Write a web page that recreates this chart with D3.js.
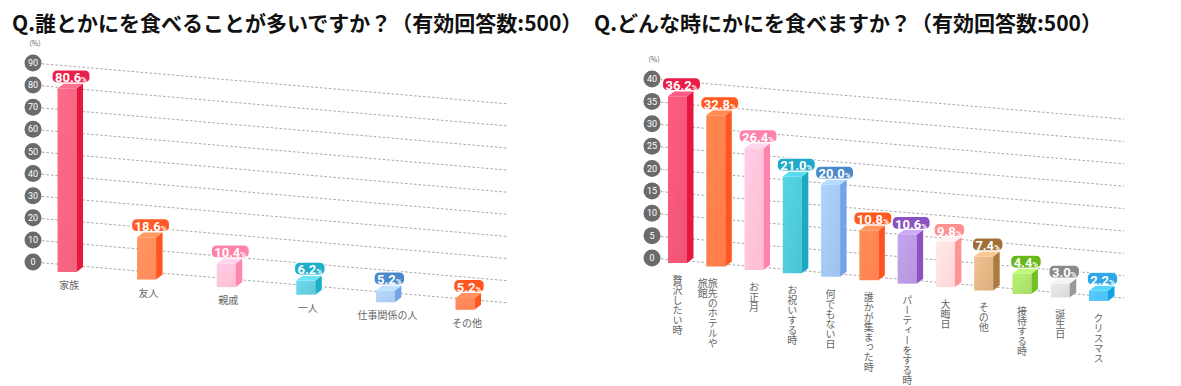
<!DOCTYPE html>
<html>
<head>
<meta charset="utf-8">
<script src="https://cdn.jsdelivr.net/npm/d3@7"></script>
<style>
  body { margin: 0; background: #fff; }
  svg { display: block; }
  text { font-family: "Noto Sans CJK JP", "Noto Sans", sans-serif; }
</style>
</head>
<body>
<script>
// data
var whoCats = ["家族", "友人", "親戚", "一人", "仕事関係の人", "その他"];
var whoVals = [80.6, 18.6, 10.4, 6.2, 5.2, 5.2];
var whoTicks = [0, 10, 20, 30, 40, 50, 60, 70, 80, 90];

var whenCats = ["贅沢したい時", "旅先のホテルや|旅館", "お正月", "お祝いする時", "何でもない日", "誰かが集まった時",
  "パーティーをする時", "大晦日", "その他", "接待する時", "誕生日", "クリスマス"];
var whenVals = [36.2, 32.8, 26.4, 21.0, 20.0, 10.8, 10.6, 9.8, 7.4, 4.4, 3.0, 2.2];
var whenTicks = [0, 5, 10, 15, 20, 25, 30, 35, 40];

// colours: [front, side, badge]
var whoColors = [
  ["#f2627f", "#e8173f", "#e8204a"],
  ["#ff8a5a", "#ff5520", "#ff5a28"],
  ["#ffbdd3", "#ff86ad", "#ff82ab"],
  ["#62c8d8", "#1fb0c8", "#1fafcc"],
  ["#a9c8ef", "#74a3ea", "#4a89cc"],
  ["#ff8255", "#ff5520", "#ff5520"]
];
var whenColors = [
  ["#ee5475", "#e8173f", "#e81c48"],
  ["#ff7c48", "#ff5520", "#ff5a20"],
  ["#ffbcd2", "#ff84ab", "#ff82ab"],
  ["#4cc4d4", "#1aaac4", "#1eaac8"],
  ["#9ec2ea", "#74a3ea", "#4a89cc"],
  ["#ff8250", "#ff5520", "#ff5a20"],
  ["#b596dc", "#8a52c4", "#8a52c0"],
  ["#ffd6d6", "#ff9494", "#ff9090"],
  ["#dcb080", "#aa7a40", "#a07038"],
  ["#a8dc68", "#72c220", "#68b818"],
  ["#d8d8d8", "#9a9a9a", "#8a8a8a"],
  ["#4cbdf2", "#12a0e8", "#30a8e8"]
];

var svg = d3.select("body").append("svg")
  .attr("width", 1181)
  .attr("height", 386);

var defs = svg.append("defs");

// titles
svg.append("text").attr("x", 12).attr("y", 31)
  .style("font-size", "21px").style("font-weight", "bold").attr("fill", "#111")
  .text("Q.誰とかにを食べることが多いですか？（有効回答数:500）");
svg.append("text").attr("x", 594).attr("y", 31)
  .style("font-size", "21px").style("font-weight", "bold").attr("fill", "#111")
  .text("Q.どんな時にかにを食べますか？（有効回答数:500）");

function drawChart(cfg) {
  var g = svg.append("g");
  var y = d3.scaleLinear().domain([0, d3.max(cfg.ticks)]).range([cfg.y0, cfg.yTop]);
  var x = d3.scalePoint().domain(cfg.cats).range(cfg.xRange);
  var fmt = d3.format(".1f");

  // sloped dashed grid
  g.append("g").selectAll("line").data(cfg.ticks).enter().append("line")
    .attr("x1", cfg.axisX).attr("x2", cfg.gridX1)
    .attr("y1", function (d) { return y(d); })
    .attr("y2", function (d) { return y(d) + cfg.slope * (cfg.gridX1 - cfg.axisX); })
    .style("stroke", "#a8a8a8").style("stroke-width", 1).style("stroke-dasharray", "2.5,2");

  // tick badges
  var tk = g.append("g").selectAll("g").data(cfg.ticks).enter().append("g")
    .attr("transform", function (d) { return "translate(" + cfg.axisX + "," + y(d) + ")"; });
  tk.append("circle").attr("r", 8.5).style("fill", "#6b6b6b");
  tk.append("text").attr("text-anchor", "middle").attr("dy", "0.35em")
    .style("font-size", "9px").style("fill", "#fff").style("font-family", "Roboto, sans-serif")
    .text(function (d) { return d; });

  g.append("text").attr("x", cfg.axisX + 2).attr("y", cfg.yTop - 17)
    .attr("text-anchor", "middle").style("font-size", "7px").style("fill", "#666")
    .text("(%)");

  var bw = 19, dx = 6.5, dy = 5;
  var bars = g.append("g").selectAll("g").data(cfg.vals).enter().append("g");

  bars.each(function (v, i) {
    var c = cfg.colors[i];
    var cx = x(cfg.cats[i]);
    var bottom = cfg.barY0 + cfg.barSlope * (cx - cfg.xRange[0]);
    var h = (cfg.y0 - y(v)) * 1.03;
    var top = bottom - h;
    var x0 = cx - bw / 2, x1 = cx + bw / 2;
    var gid = cfg.id + "g" + i;
    var lg = defs.append("linearGradient").attr("id", gid).attr("x1", 0).attr("y1", 0).attr("x2", 1).attr("y2", 1);
    lg.append("stop").attr("offset", 0).attr("stop-color", d3.color(c[0]).brighter(0.25));
    lg.append("stop").attr("offset", 1).attr("stop-color", c[0]);
    var b = d3.select(this);
    b.append("path")
      .attr("d", "M" + x0 + "," + top + "H" + x1 + "V" + bottom + "H" + x0 + "Z")
      .style("fill", "url(#" + gid + ")");
    b.append("path")
      .attr("d", "M" + x1 + "," + top + "L" + (x1 + dx) + "," + (top - dy) + "V" + (bottom - dy) + "L" + x1 + "," + bottom + "Z")
      .style("fill", c[1]);
    b.append("path")
      .attr("d", "M" + x0 + "," + top + "L" + (x0 + dx) + "," + (top - dy) + "H" + (x1 + dx) + "L" + x1 + "," + top + "Z")
      .style("fill", d3.color(c[0]).brighter(0.35));

    // value badge
    var bx = cx + 4, by = top - 12;
    var badge = b.append("g").attr("transform", "translate(" + bx + "," + by + ")");
    var rect = badge.append("rect").style("fill", c[2]).style("stroke", "#fff").style("stroke-width", 1.2);
    var t = badge.append("text").attr("text-anchor", "middle").attr("dy", "0.36em")
      .style("fill", "#fff").style("font-family", "Roboto, sans-serif").style("font-weight", "bold");
    t.append("tspan").style("font-size", "13px").text(fmt(v));
    t.append("tspan").style("font-size", "8px").text("%");
    var w = t.node().getComputedTextLength() + 6;
    rect.attr("x", -w / 2).attr("y", -6.5).attr("width", w).attr("height", 13).attr("rx", 5);

    // category label
    var name = cfg.cats[i];
    if (cfg.vertical) {
      var parts = name.split("|");
      parts.forEach(function (p, k) {
        var colX = parts.length > 1 ? cx - 3 - k * 10 : cx;
        b.append("text")
          .attr("x", colX).attr("y", bottom + 12)
          .style("writing-mode", "vertical-rl")
          .style("font-size", "10px").style("fill", "#666")
          .text(p);
      });
    } else {
      b.append("text").attr("x", cx + 2).attr("y", bottom + 17)
        .attr("text-anchor", "middle")
        .style("font-size", "10px").style("fill", "#666")
        .text(name);
    }
  });
}

drawChart({
  id: "who", cats: whoCats, vals: whoVals, ticks: whoTicks, colors: whoColors,
  axisX: 33, gridX1: 508, y0: 262, yTop: 63, slope: 0.086,
  xRange: [67, 465], barY0: 272, barSlope: 0.095, vertical: false
});

drawChart({
  id: "when", cats: whenCats, vals: whenVals, ticks: whenTicks, colors: whenColors,
  axisX: 652, gridX1: 1124, y0: 258, yTop: 79, slope: 0.085,
  xRange: [677.5, 1098.5], barY0: 263, barSlope: 0.09, vertical: true
});
</script>
</body>
</html>
